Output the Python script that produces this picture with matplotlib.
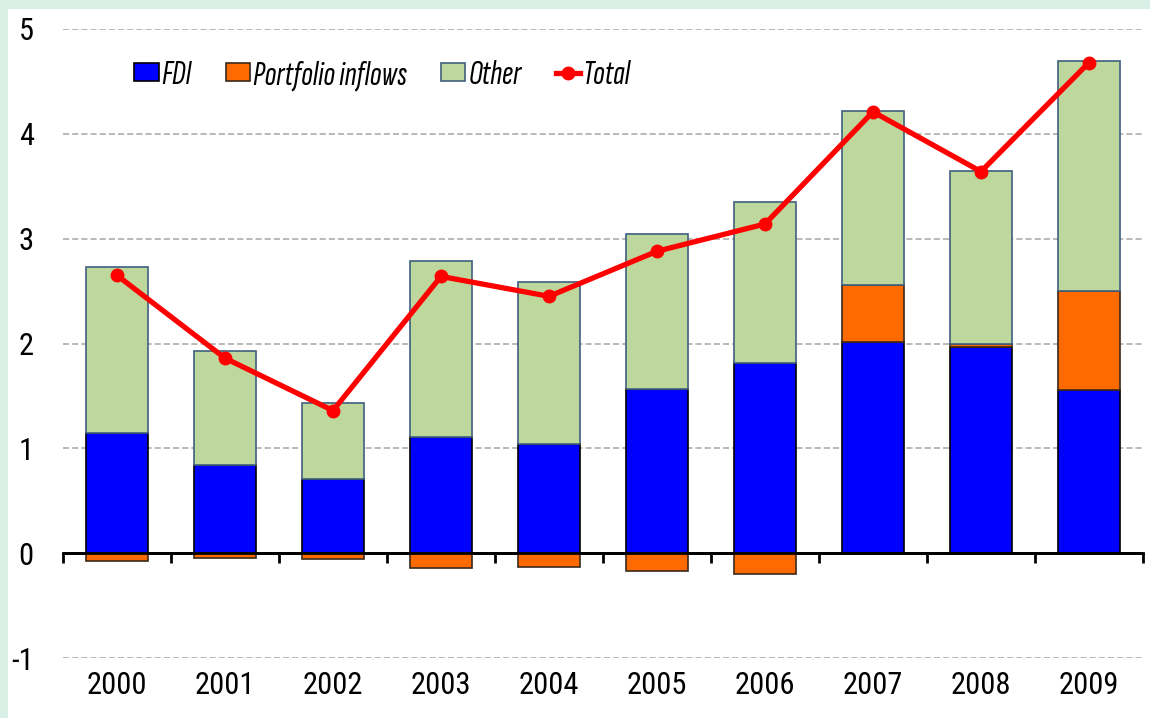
import matplotlib
matplotlib.use("Agg")
import matplotlib.pyplot as plt
import numpy as np
from matplotlib.patches import Rectangle
from matplotlib import font_manager

years = ["2000", "2001", "2002", "2003", "2004", "2005", "2006", "2007", "2008", "2009"]
fdi = [1.15, 0.84, 0.71, 1.11, 1.04, 1.57, 1.81, 2.01, 1.97, 1.56]
portfolio = [-0.07, -0.05, -0.06, -0.14, -0.13, -0.17, -0.20, 0.55, 0.03, 0.94]
other = [1.58, 1.09, 0.72, 1.68, 1.55, 1.47, 1.54, 1.66, 1.65, 2.19]
total = [2.65, 1.86, 1.36, 2.64, 2.45, 2.88, 3.14, 4.21, 3.64, 4.68]

fam = 'Roboto Condensed'
plt.rcParams['font.family'] = [fam, 'DejaVu Sans']
names = {f.name for f in font_manager.fontManager.ttflist}
leg_fam = 'Sofia Sans Extra Condensed' if 'Sofia Sans Extra Condensed' in names else fam

W, H = 1150, 718
fig = plt.figure(figsize=(W / 100, H / 100), dpi=100, facecolor='#d9efe6')
fig.patches.append(Rectangle((8 / W, 0), 1, (H - 9) / H, transform=fig.transFigure,
                             facecolor='white', edgecolor='none', zorder=-10))
ax = fig.add_axes([63 / W, (H - 658) / H, (1143 - 63) / W, (658 - 29) / H])
ax.set_facecolor('none')

x = np.arange(len(years))
fdi_a = np.array(fdi)
port_a = np.array(portfolio)
oth_a = np.array(other)
w = 0.58
h_fdi = ax.bar(x, fdi_a, w, color='#0000ff', edgecolor='black', linewidth=1.2, zorder=3, label='FDI')
port_bottom = np.where(port_a >= 0, fdi_a, 0)
h_port = ax.bar(x, port_a, w, bottom=port_bottom, color='#ff6a00', edgecolor='#3a2a1a', linewidth=1.2,
                zorder=3, label='Portfolio inflows')
oth_bottom = fdi_a + np.clip(port_a, 0, None)
h_oth = ax.bar(x, oth_a, w, bottom=oth_bottom, color='#bed79c', edgecolor='#3f5f7f', linewidth=1.2,
               zorder=3, label='Other')
h_tot, = ax.plot(x, total, color='#ff0000', linewidth=3.8, marker='o', markersize=9, zorder=5, label='Total')

ax.set_xlim(-0.5, len(years) - 0.5)
ax.set_ylim(-1, 5)
ax.set_yticks([-1, 0, 1, 2, 3, 4, 5])
ax.set_yticklabels(['-1', '0', '1', '2', '3', '4', '5'], fontsize=22)
ax.tick_params(axis='y', length=0, pad=21)
for yv in [-1, 1, 2, 3, 4, 5]:
    ax.axhline(yv, color='#a6a6a6', linewidth=1.1, linestyle=(0, (4, 2)), zorder=1)
for s in ['left', 'right', 'top', 'bottom']:
    ax.spines[s].set_visible(False)

ax.set_xticks(x)
ax.set_xticklabels(years, fontsize=22)
ax.tick_params(axis='x', length=0, pad=9)

sec = ax.secondary_xaxis(1 / 6)
sec.set_xticks(np.arange(len(years) + 1) - 0.5)
sec.set_xticklabels([])
sec.tick_params(axis='x', direction='out', length=7, width=2, color='black')
sec.spines['bottom'].set_linewidth(2)
sec.spines['bottom'].set_color('black')
ax.axhline(0, color='black', linewidth=2, zorder=4)

leg = ax.legend([h_fdi, h_port, h_oth, h_tot], ['FDI', 'Portfolio inflows', 'Other', 'Total'],
                loc='upper left', bbox_to_anchor=(0.037, 1.0), ncol=4, frameon=False,
                prop={'family': [leg_fam], 'style': 'italic', 'size': 25},
                handlelength=0.7, handleheight=0.45, handletextpad=0.07, columnspacing=1.0)

fig.savefig('out.png', dpi=100, facecolor=fig.get_facecolor())
